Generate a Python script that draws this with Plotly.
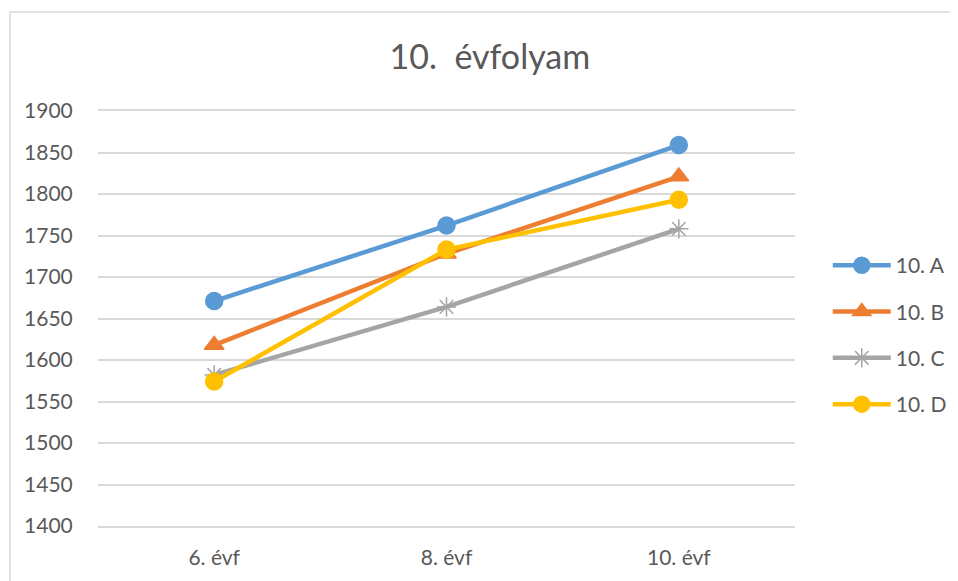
import plotly.graph_objects as go

categories = ["6. évf", "8. évf", "10. évf"]
series_names = ["10. A", "10. B", "10. C", "10. D"]
values_a = [1671, 1762, 1859]
values_b = [1618, 1728, 1821]
values_c = [1582, 1664, 1758]
values_d = [1574, 1733, 1793]
y_ticks = list(range(1400, 1901, 50))

colors = ["#5B9BD5", "#ED7D31", "#A5A5A5", "#FFC000"]
symbols = ["circle", "triangle-up", "asterisk-open", "circle"]
sizes = [17, 17, 16, 17]
all_values = [values_a, values_b, values_c, values_d]

fig = go.Figure()
for name, vals, col, sym, sz in zip(series_names, all_values, colors, symbols, sizes):
    fig.add_trace(go.Scatter(
        x=categories, y=vals, name=name, mode="lines+markers", legendgroup=name,
        line=dict(color=col, width=4.5),
        marker=dict(symbol=sym, size=sz, color=col, line=dict(color=col, width=1.5)),
    ))

fig.update_layout(
    width=958, height=581,
    margin=dict(l=90, r=171, t=103, b=63),
    paper_bgcolor="white", plot_bgcolor="white",
    font=dict(family="Lato, Open Sans, sans-serif", color="#595959", size=21),
    title=dict(text="10.  évfolyam", x=0.503, xanchor="center", y=0.916, yanchor="middle",
               font=dict(size=34, color="#595959")),
    showlegend=True,
    legend=dict(x=1.047, y=0.46, yanchor="middle", xanchor="left",
                font=dict(size=21, color="#595959"), tracegroupgap=16,
                itemwidth=58, bgcolor="rgba(0,0,0,0)"),
    xaxis=dict(type="category", showgrid=False, showline=True, mirror=True,
               linecolor="#D9D9D9", linewidth=1.5,
               ticks="outside", ticklen=12, tickcolor="rgba(0,0,0,0)",
               tickfont=dict(size=21), range=[-0.5, 2.5]),
    yaxis=dict(range=[1400, 1900], tickvals=y_ticks, showgrid=True, gridcolor="#D9D9D9",
               gridwidth=1.5, zeroline=False, showline=False,
               ticks="outside", ticklen=20, tickcolor="rgba(0,0,0,0)",
               tickfont=dict(size=21)),
    shapes=[dict(type="rect", xref="paper", yref="paper",
                 x0=(10 - 98) / 697, x1=1.5, y0=-0.5, y1=1 + (111 - 12) / 415,
                 line=dict(color="#D9D9D9", width=1.5), fillcolor="rgba(0,0,0,0)", layer="below")],
)

fig.write_html("out.html")
